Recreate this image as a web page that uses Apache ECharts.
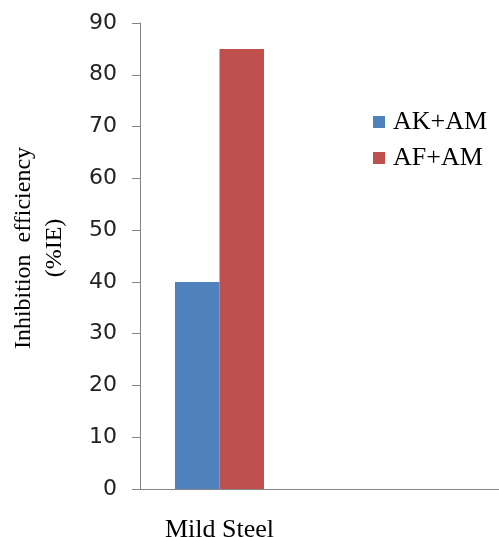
<!DOCTYPE html>
<html>
<head>
<meta charset="utf-8">
<script src="https://cdn.jsdelivr.net/npm/echarts@6/dist/echarts.min.js"></script>
<style>
html,body{margin:0;padding:0;background:#fff;}
#chart{width:499px;height:537px;}
</style>
</head>
<body>
<div id="chart"></div>
<script>
const categories = ['Mild Steel', ''];
const seriesNames = ['AK+AM', 'AF+AM'];
const akam = [40, null];
const afam = [85, null];
const yTicks = { min: 0, max: 90, interval: 10 };
const colors = ['#4F81BD', '#C0504D'];

const chart = echarts.init(document.getElementById('chart'), null, { renderer: 'canvas' });
const axisGray = '#868686';
chart.setOption({
  animation: false,
  backgroundColor: '#ffffff',
  color: colors,
  grid: [
    { left: 140, top: 23, bottom: 48, width: 318, containLabel: false, outerBoundsMode: 'none' },
    { left: 140, top: 23, bottom: 48, right: 0, containLabel: false, outerBoundsMode: 'none' }
  ],
  legend: {
    orient: 'vertical',
    left: 373,
    top: 109,
    padding: 0,
    itemWidth: 12,
    itemHeight: 12,
    itemGap: 10,
    icon: 'rect',
    data: seriesNames,
    textStyle: { fontFamily: 'Liberation Serif', fontSize: 26, color: '#000', padding: [0, 0, 0, 3] }
  },
  xAxis: [
    {
      type: 'category',
      gridIndex: 0,
      data: categories,
      axisLine: { lineStyle: { color: axisGray, width: 1 } },
      axisTick: { show: false },
      axisLabel: { interval: 0, margin: 28, fontFamily: 'Liberation Serif', fontSize: 26, color: '#000' }
    },
    {
      type: 'value',
      gridIndex: 1,
      min: 0, max: 1,
      axisLine: { show: true, lineStyle: { color: axisGray, width: 1 } },
      axisTick: { show: false },
      axisLabel: { show: false },
      splitLine: { show: false }
    }
  ],
  yAxis: [
    {
      type: 'value',
      gridIndex: 0,
      min: yTicks.min, max: yTicks.max, interval: yTicks.interval,
      name: 'Inhibition  efficiency\n(%IE)',
      nameLocation: 'middle',
      nameRotate: 90,
      nameGap: 70,
      nameTextStyle: { fontFamily: 'Liberation Serif', fontSize: 24, color: '#000', lineHeight: 31, align: 'center', padding: [0, 0, 0, 16] },
      axisLine: { show: true, lineStyle: { color: axisGray, width: 1 } },
      axisTick: { show: true, length: 8, inside: false, lineStyle: { color: axisGray } },
      axisLabel: { margin: 23, fontFamily: 'DejaVu Sans', fontSize: 22, color: '#222' },
      splitLine: { show: false }
    },
    {
      type: 'value',
      gridIndex: 1,
      show: false,
      min: 0, max: 1,
      splitLine: { show: false }
    }
  ],
  series: [
    { name: seriesNames[0], type: 'bar', xAxisIndex: 0, yAxisIndex: 0, data: akam, barWidth: '28%', barGap: '0%' },
    { name: seriesNames[1], type: 'bar', xAxisIndex: 0, yAxisIndex: 0, data: afam, barWidth: '28%', barGap: '0%' }
  ]
});
</script>
</body>
</html>
